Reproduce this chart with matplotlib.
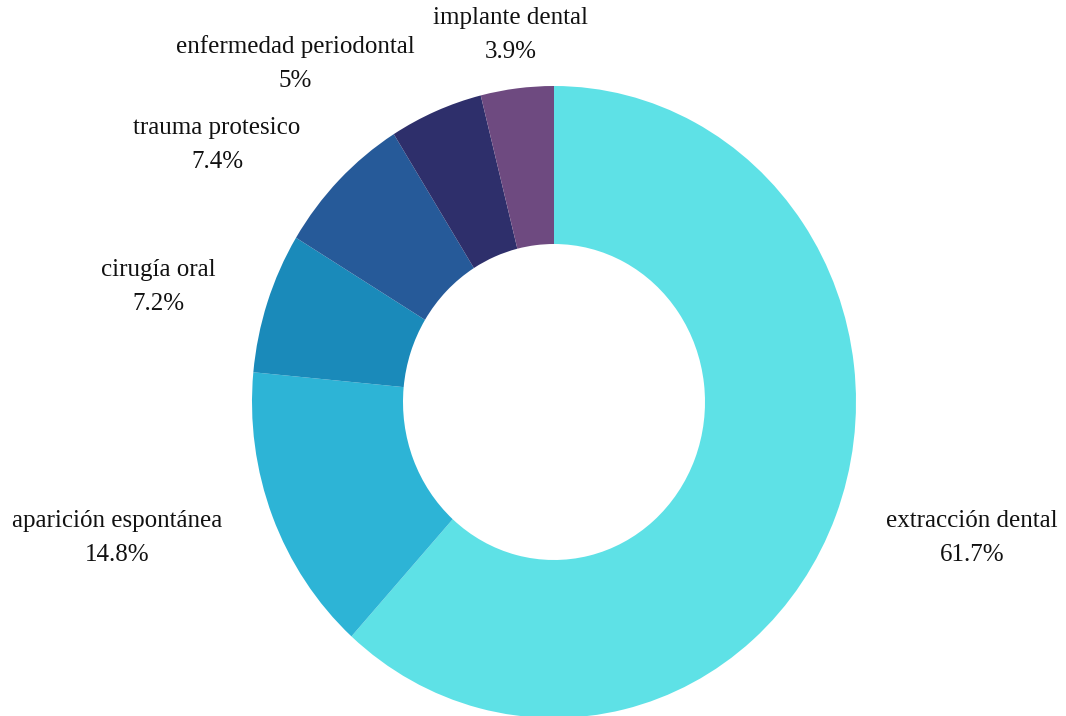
import numpy as np
import matplotlib
matplotlib.use("Agg")
import matplotlib.pyplot as plt

categorias = ['extracción dental', 'aparición espontánea', 'cirugía oral',
              'trauma protesico', 'enfermedad periodontal', 'implante dental']
porcentajes = [61.7, 14.8, 7.2, 7.4, 5.0, 3.9]
colores = ['#5ee1e6', '#2db4d6', '#1a8aba', '#265a99', '#2e2f6b', '#6e4a80']

# label placement (radius factor, angle nudge in degrees) to avoid overlaps
lab_r = [1.45, 1.51, 1.36, 1.38, 1.37, 1.17]
lab_da = [3.8, -4.7, 2.9, 8.6, 15.6, 0.0]

plt.rcParams['font.family'] = ['Liberation Serif', 'DejaVu Serif']

fig = plt.figure(figsize=(10.66, 7.16), dpi=100)
ax = fig.add_axes([252 / 1066, -2 / 716, 604 / 1066, 632 / 716])

wedges, _ = ax.pie(porcentajes, colors=colores, startangle=90, counterclock=False,
                   radius=1.0, wedgeprops=dict(width=0.5, linewidth=0))

for w, cat, p, r, da in zip(wedges, categorias, porcentajes, lab_r, lab_da):
    ang = np.deg2rad((w.theta1 + w.theta2) / 2 + da)
    txt = '%s\n%s%%' % (cat, ('%.1f' % p).rstrip('0').rstrip('.'))
    ax.text(r * np.cos(ang), r * np.sin(ang), txt, ha='center', va='center',
            fontsize=18, linespacing=1.7, color='#111111', clip_on=False)

ax.set_xlim(-1, 1)
ax.set_ylim(-1, 1)
ax.set_aspect('auto')
ax.axis('off')

fig.savefig('out.png', dpi=100)
